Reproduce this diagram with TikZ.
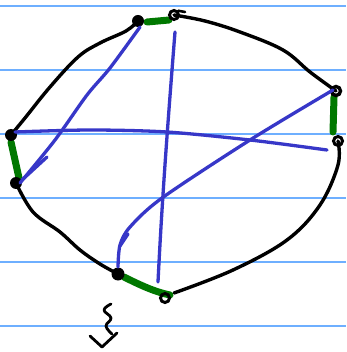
\documentclass[tikz,border=0pt]{standalone}
\begin{document}
\begin{tikzpicture}[x=1pt,y=-1pt,
  rule/.style={draw={rgb,255:red,110;green,175;blue,255},line width=1.6pt},
  ink/.style={draw=black,line width=3.4pt,line cap=round,line join=round},
  gink/.style={draw={rgb,255:red,0;green,120;blue,0},line width=7pt,line cap=round},
  bink/.style={draw={rgb,255:red,55;green,55;blue,200},line width=3.3pt,line cap=round,line join=round},
  fdot/.style={circle,fill=black,inner sep=0pt,minimum size=12pt},
  odot/.style={circle,draw=black,line width=3pt,inner sep=0pt,minimum size=9pt}]
\useasboundingbox (0,0) rectangle (346,352);
\fill[white] (0,0) rectangle (346,352);
\foreach \y in {6,70,134,198,262,326} \draw[rule] (0,\y) -- (346,\y);
% vertices
\coordinate (A) at (138,21);
\coordinate (B) at (174,15);
\coordinate (C) at (336,91);
\coordinate (D) at (338,141);
\coordinate (E) at (11,135);
\coordinate (F) at (16,183);
\coordinate (G) at (118,274);
\coordinate (H) at (165,298);
% black curved edges
\draw[ink] plot[smooth,tension=0.6] coordinates {(A) (126,31) (100,43) (78,57) (50,87) (25,118) (E)};
\draw[ink] plot[smooth,tension=0.6] coordinates {(B) (205,21) (240,32) (283,50) (310,72) (C)};
\draw[ink] plot[smooth,tension=0.6] coordinates {(D) (338,165) (320,205) (287,240) (233,270) (174,293)};
\draw[ink] plot[smooth,tension=0.6] coordinates {(F) (33,212) (60,232) (80,250) (100,264) (G)};
% green edges
\draw[gink] (147,22) -- (169,20);
\draw[gink] (11,142) -- (19,178);
\draw[gink] (334,97) -- (333,132);
\draw[gink] (124,277) .. controls (140,285) and (155,292) .. (170,295);
% dots
\node[fdot] (nA) at (A) {};
\node[odot] (nB) at (B) {};
\draw[ink,line width=2.6pt] (nB.north east) -- (185,12);
\node[odot,line width=3.4pt] (nC) at (C) {};
\node[odot] (nD) at (D) {};
\node[fdot] (nE) at (E) {};
\node[fdot] (nF) at (F) {};
\node[fdot,minimum size=13pt] (nG) at (G) {};
\node[odot] (nH) at (H) {};
% blue lines
\draw[bink] plot[smooth,tension=0.5] coordinates {(140,27) (110,68) (87,95) (55,140) (20,183)};
\draw[bink] (47,157) -- (22,180);
\draw[bink] (175,32) .. controls (168,120) and (162,200) .. (158,282);
\draw[bink] plot[smooth,tension=0.5] coordinates {(15,132) (90,130) (167,132) (250,140) (327,150)};
\draw[bink] plot[smooth,tension=0.5] coordinates {(333,90) (250,140) (162,198) (130,227) (120,245) (118,267)};
\draw[bink] (128,234) -- (120,246);
% squiggle
\draw[ink,line width=2.8pt] plot[smooth,tension=0.7] coordinates {(111,304) (104,310) (111,318) (106,326) (112,334)};
\draw[ink,line width=2.8pt] (90,336) -- (102,347) -- (117,333);
\end{tikzpicture}
\end{document}
